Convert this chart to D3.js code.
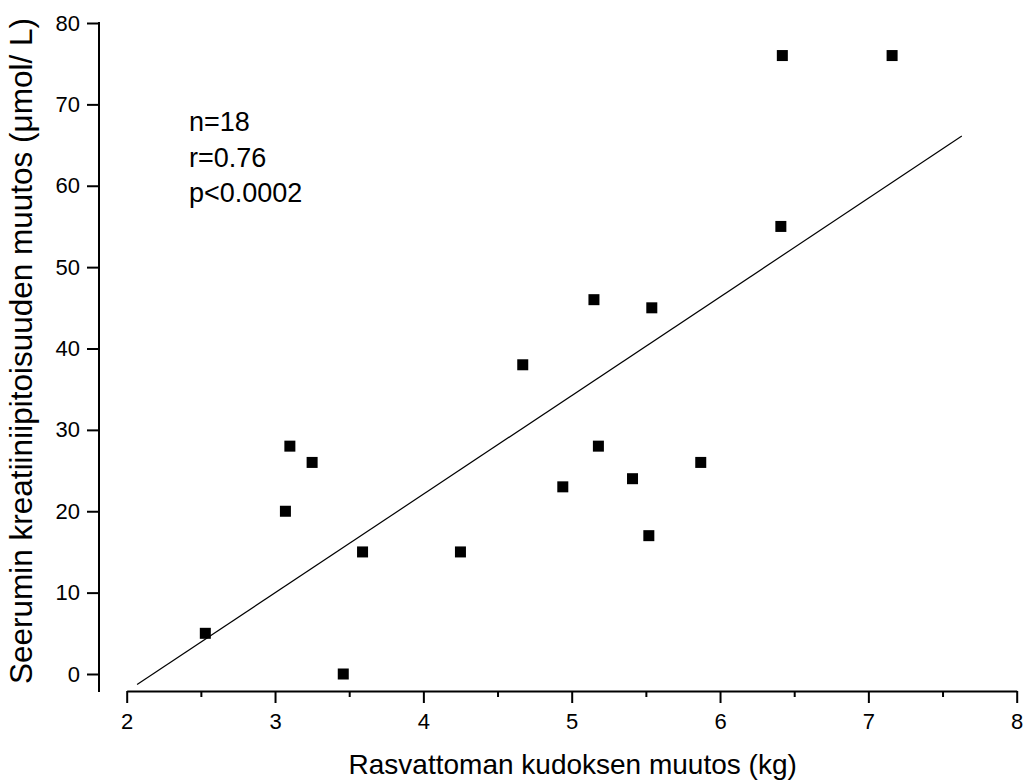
<!DOCTYPE html>
<html>
<head>
<meta charset="utf-8">
<script src="https://cdn.jsdelivr.net/npm/d3@7"></script>
<style>
  html, body { margin: 0; padding: 0; background: #fff; }
  svg { display: block; font-family: "Liberation Sans", Arial, sans-serif; }
</style>
</head>
<body>
<svg id="chart" width="1026" height="783"></svg>
<script>
// ---- data ----
const xValues = [2.53, 3.46, 3.59, 4.25, 3.07, 3.10, 3.25, 4.67, 4.94, 5.15, 5.18, 5.41, 5.52, 5.54, 5.87, 6.41, 6.42, 7.16];
const yValues = [5, 0, 15, 15, 20, 28, 26, 38, 23, 46, 28, 24, 17, 45, 26, 55, 76, 76];
const fitX = [2.07, 7.63];
const fitY = [-1.3, 66.1];
const xTicks = [2, 3, 4, 5, 6, 7, 8];
const xMinorTicks = [2.5, 3.5, 4.5, 5.5, 6.5, 7.5];
const yTicks = [0, 10, 20, 30, 40, 50, 60, 70, 80];
const annotations = ["n=18", "r=0.76", "p<0.0002"];
const xTitle = "Rasvattoman kudoksen muutos (kg)";
const yTitle = "Seerumin kreatiiniipitoisuuden muutos (\u03bcmol/ L)";

// ---- layout ----
const svg = d3.select("#chart");
const xAxisY = 691;
const yAxisX = 99;

const x = d3.scaleLinear().domain([2, 8]).range([126.7, 1016.7]);
const y = d3.scaleLinear().domain([0, 80]).range([674, 23]);

// x axis
const gx = svg.append("g").attr("transform", `translate(0,${xAxisY})`);
gx.append("g")
  .call(d3.axisBottom(x).tickValues(xMinorTicks).tickSize(6).tickFormat(""))
  .call(g => g.select(".domain").remove());
gx.append("g")
  .call(d3.axisBottom(x).tickValues(xTicks).tickSize(12).tickSizeOuter(0).tickPadding(10).tickFormat(d3.format("d")))
  .call(g => g.select(".domain").attr("stroke-width", 2))
  .call(g => g.selectAll(".tick text").attr("font-size", 22).attr("fill", "#000").attr("font-family", "Liberation Sans, Arial, sans-serif"));
gx.selectAll(".tick line").attr("stroke-width", 2);

// y axis
const gy = svg.append("g").attr("transform", `translate(${yAxisX},0)`);
gy.call(d3.axisLeft(y).tickValues(yTicks).tickSize(12).tickPadding(7).tickFormat(d3.format("d")))
  .call(g => g.select(".domain").remove())
  .call(g => g.selectAll(".tick line").attr("stroke-width", 2))
  .call(g => g.selectAll(".tick text").attr("font-size", 22).attr("fill", "#000").attr("font-family", "Liberation Sans, Arial, sans-serif"));
gy.append("line")
  .attr("x1", 0).attr("x2", 0)
  .attr("y1", y(80) - 1).attr("y2", xAxisY + 1)
  .attr("stroke", "#000").attr("stroke-width", 2);

// fit line
svg.append("path")
  .datum(fitX.map((d, i) => [d, fitY[i]]))
  .attr("d", d3.line().x(d => x(d[0])).y(d => y(d[1])))
  .attr("fill", "none").attr("stroke", "#000").attr("stroke-width", 1.2);

// points
const size = 11;
svg.append("g").selectAll("rect")
  .data(xValues.map((d, i) => [d, yValues[i]]))
  .join("rect")
  .attr("x", d => x(d[0]) - size / 2)
  .attr("y", d => y(d[1]) - size / 2)
  .attr("width", size).attr("height", size)
  .attr("fill", "#000");

// annotations
svg.append("g").selectAll("text")
  .data(annotations)
  .join("text")
  .attr("x", 189)
  .attr("y", (d, i) => 131 + i * 35.5)
  .attr("font-size", 27)
  .attr("fill", "#000")
  .text(d => d);

// titles
svg.append("text")
  .attr("x", (x(2) + x(8)) / 2 + 1)
  .attr("y", 774)
  .attr("text-anchor", "middle")
  .attr("font-size", 28)
  .attr("fill", "#000")
  .text(xTitle);

svg.append("text")
  .attr("transform", `translate(32,351) rotate(-90)`)
  .attr("text-anchor", "middle")
  .attr("font-size", 31.5)
  .attr("fill", "#000")
  .text(yTitle);
</script>
</body>
</html>
